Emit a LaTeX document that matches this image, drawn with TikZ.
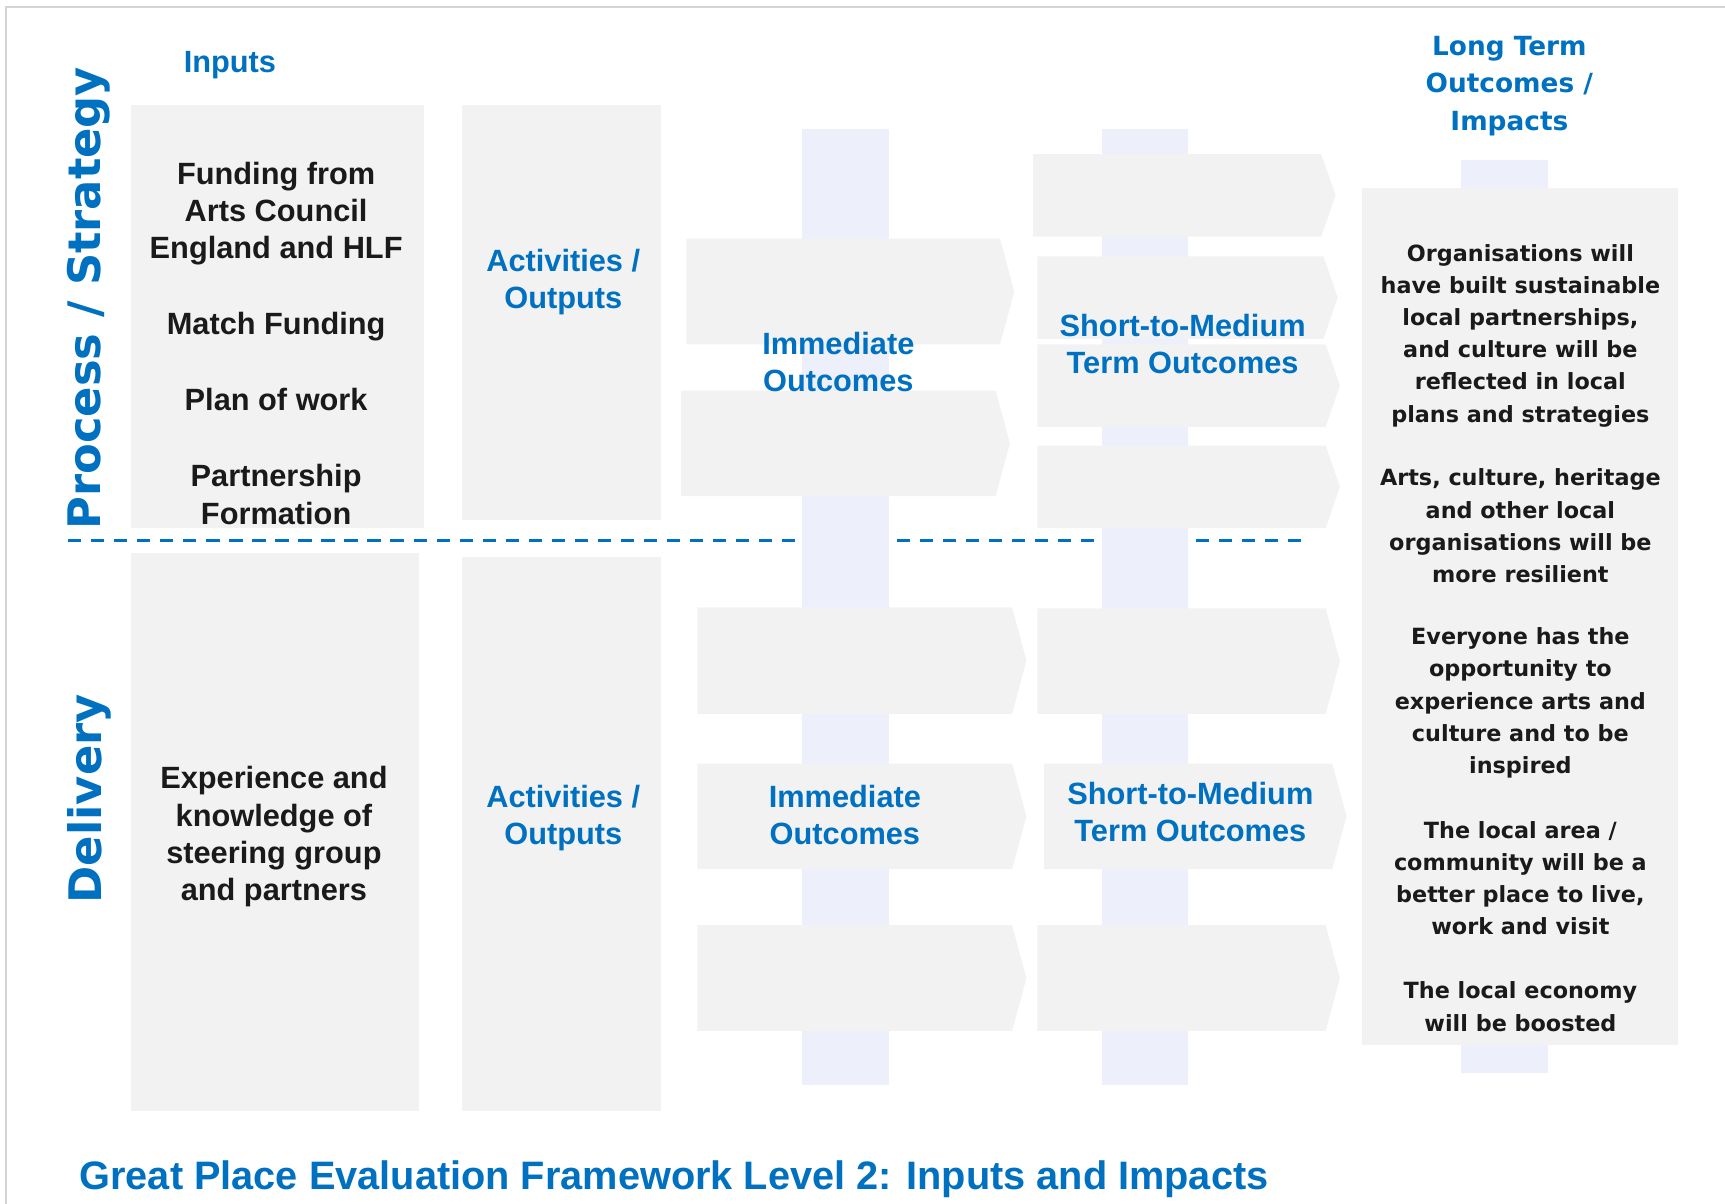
\documentclass[tikz,border=0pt]{standalone}
\usepackage{fontspec}
\setmainfont{Liberation Sans}
\newfontfamily\widefont{DejaVu Sans}
\definecolor{gpblue}{HTML}{0070C0}
\definecolor{boxgray}{HTML}{F2F2F2}
\definecolor{colblue}{HTML}{EDF0FA}
\definecolor{framegray}{HTML}{D4D4D4}
\definecolor{inktext}{HTML}{1A1A1A}
\tikzstyle{bluehead}=[
    inner sep=0pt,
    align=center,
    text=gpblue,
    font=\bfseries\fontsize{17.5}{21.1}\selectfont,
]
\tikzstyle{inputtext}=[
    inner sep=0pt,
    align=center,
    text=inktext,
    font=\bfseries\fontsize{17.5}{21.1}\selectfont,
]
\tikzstyle{impacttext}=[
    inner sep=0pt,
    align=center,
    text=inktext,
    font=\widefont\bfseries\fontsize{12.7}{18.3}\selectfont,
]
\tikzstyle{sidetext}=[
    inner sep=0pt,
    rotate=90,
    text=gpblue,
    font=\widefont\bfseries\fontsize{25.5}{30}\selectfont,
]
\tikzstyle{divider}=[
    gpblue,
    line width=1.9pt,
    dash pattern=on 7.5pt off 5.6pt,
]
% box with a pointed right end: x1, y1, tip x, y2
\newcommand{\outcomebox}[4]{%
    \fill[boxgray] (#1,#2) -- (#3-13,#2) -- (#3,{(#2+#4)/2}) -- (#3-13,#4) -- (#1,#4) -- cycle;}

\begin{document}
\begin{tikzpicture}[x=0.022cm, y=-0.022cm]
        \useasboundingbox (0,0) rectangle (1568,1094);
        \draw[framegray, line width=1.3pt] (5.4,1094) -- (5.4,6.4) -- (1568,6.4);

        \fill[boxgray] (119,95) rectangle (385,480);
        \fill[boxgray] (119,503) rectangle (381,1010);
        \fill[boxgray] (420,95) rectangle (601,473);
        \fill[boxgray] (420,506) rectangle (601,1010);

        \coordinate (divleft) at (62,491);
        \coordinate (divright) at (1187,491);
        \draw[divider] (divleft) -- (divright);

        \fill[colblue] (729,117) rectangle (808,986);
        \fill[colblue] (1002,117) rectangle (1080,986);
        \fill[colblue] (1328,145) rectangle (1407,975);

        \outcomebox{624}{217}{922}{313}
        \outcomebox{619}{355}{918}{451}
        \outcomebox{634}{552}{933}{649}
        \outcomebox{634}{694}{933}{790}
        \outcomebox{634}{841}{933}{937}

        \outcomebox{939}{140}{1214}{215}
        \outcomebox{943}{233}{1216}{308}
        \outcomebox{943}{313}{1218}{388}
        \outcomebox{943}{405}{1218}{480}
        \outcomebox{943}{553}{1218}{649}
        \outcomebox{949}{694}{1224}{790}
        \outcomebox{943}{841}{1218}{937}

        \fill[boxgray] (1238,171) rectangle (1525,950);

        \node (process) at (81, 271) [sidetext] {Process / Strategy};
        \node (delivery) at (81, 726) [sidetext] {Delivery};

        \node (inputs) at (209, 59.5) [bluehead] {Inputs};
        \node (longterm) at (1372, 78) [bluehead, font=\widefont\bfseries\fontsize{15}{21.3}\selectfont] {Long Term\\Outcomes /\\Impacts};

        \node (funding) at (251, 194.5) [inputtext] {Funding from\\Arts Council\\England and HLF};
        \node (match) at (251, 296.5) [inputtext] {Match Funding};
        \node (plan) at (251, 363.5) [inputtext] {Plan of work};
        \node (partner) at (251, 449.5) [inputtext] {Partnership\\Formation};
        \node (experience) at (249, 760.5) [inputtext] {Experience and\\knowledge of\\steering group\\and partners};

        \node (actstrat) at (512, 256.5) [bluehead] {Activities /\\Outputs};
        \node (immstrat) at (762, 329) [bluehead] {Immediate\\Outcomes};
        \node (medstrat) at (1075, 313) [bluehead] {Short-to-Medium\\Term Outcomes};
        \node (actdel) at (512, 743.5) [bluehead] {Activities /\\Outputs};
        \node (immdel) at (768, 741) [bluehead] {Immediate\\Outcomes};
        \node (meddel) at (1082, 738) [bluehead] {Short-to-Medium\\Term Outcomes};

        \node (impactone) at (1382, 305) [impacttext] {Organisations will\\have built sustainable\\local partnerships,\\and culture will be\\reflected in local\\plans and strategies};
        \node (impacttwo) at (1382, 478) [impacttext] {Arts, culture, heritage\\and other local\\organisations will be\\more resilient};
        \node (impactthree) at (1382, 639) [impacttext] {Everyone has the\\opportunity to\\experience arts and\\culture and to be\\inspired};
        \node (impactfour) at (1382, 798) [impacttext] {The local area /\\community will be a\\better place to live,\\work and visit};
        \node (impactfive) at (1382, 915) [impacttext] {The local economy\\will be boosted};

        \node (title) at (72, 1072) [bluehead, anchor=west, font=\bfseries\fontsize{22.6}{27}\selectfont] {Great Place Evaluation Framework Level 2: Inputs and Impacts};
    \end{tikzpicture}
\end{document}
